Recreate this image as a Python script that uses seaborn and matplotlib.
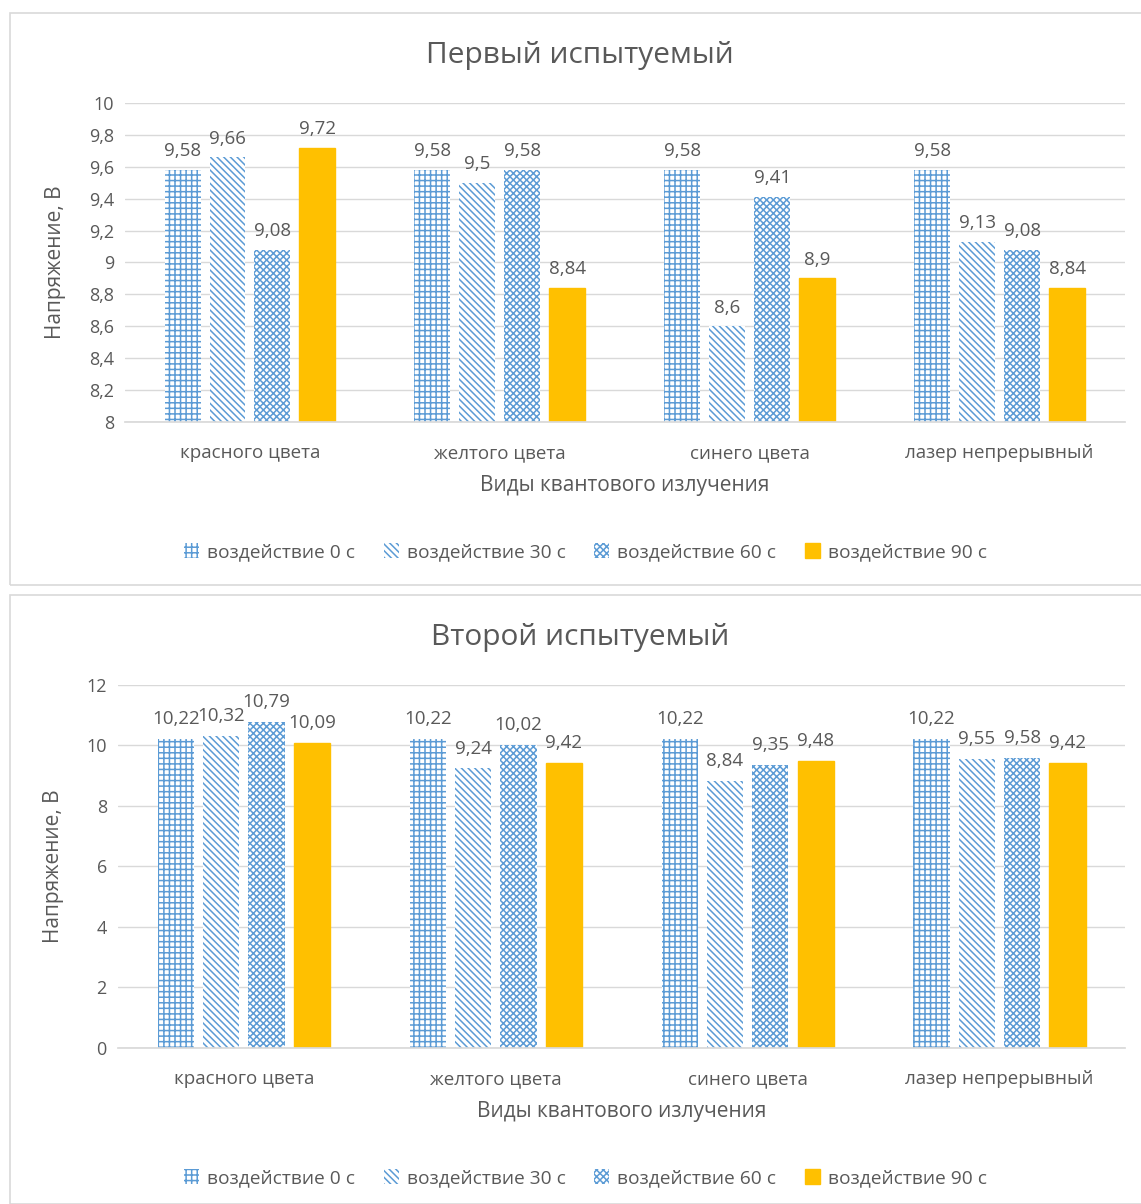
import matplotlib
matplotlib.use("Agg")
import matplotlib.pyplot as plt
import matplotlib.patches as mpatches
import seaborn as sns
import pandas as pd

sns.set_theme(style="white")
plt.rcParams["font.family"] = ["Open Sans", "DejaVu Sans"]
plt.rcParams["hatch.linewidth"] = 1.1

categories = ["красного цвета", "желтого цвета", "синего цвета", "лазер непрерывный"]
series = ["воздействие 0 с", "воздействие 30 с", "воздействие 60 с", "воздействие 90 с"]

first_0 = [9.58, 9.58, 9.58, 9.58]
first_30 = [9.66, 9.50, 8.60, 9.13]
first_60 = [9.08, 9.58, 9.41, 9.08]
first_90 = [9.72, 8.84, 8.90, 8.84]

second_0 = [10.22, 10.22, 10.22, 10.22]
second_30 = [10.32, 9.24, 8.84, 9.55]
second_60 = [10.79, 10.02, 9.35, 9.58]
second_90 = [10.09, 9.42, 9.48, 9.42]

blue = "#5B9BD5"
gold = "#FFC000"
text_col = "#595959"
grid_col = "#D9D9D9"
hatches = ["+++", "\\\\\\\\\\", "xxxxx", None]


def long_frame(cols):
    rows = []
    for s, vals in zip(series, cols):
        for c, v in zip(categories, vals):
            rows.append({"cat": c, "ser": s, "val": v})
    return pd.DataFrame(rows)


def fmt(v):
    return f"{v:g}".replace(".", ",")


def draw_panel(ax, df, ylim, step):
    sns.barplot(data=df, x="cat", y="val", hue="ser", order=categories,
                hue_order=series, ax=ax, width=0.72, gap=0.2, saturation=1,
                palette=["white", "white", "white", gold], legend=False,
                errorbar=None)
    for i, cont in enumerate(ax.containers):
        for bar, v in zip(cont, df[df.ser == series[i]]["val"]):
            if hatches[i]:
                bar.set_hatch(hatches[i])
                bar.set_edgecolor(blue)
                bar.set_linewidth(0)
            else:
                bar.set_edgecolor(gold)
                bar.set_facecolor(gold)
            ax.text(bar.get_x() + bar.get_width() / 2, v + (ylim[1] - ylim[0]) * 0.03,
                    fmt(v), ha="center", va="bottom", fontsize=13.5, color=text_col)
    ax.set_ylim(*ylim)
    ticks = [ylim[0] + k * step for k in range(int(round((ylim[1] - ylim[0]) / step)) + 1)]
    ax.set_yticks(ticks)
    ax.set_yticklabels([fmt(round(t, 1)) for t in ticks], fontsize=13, color=text_col)
    ax.tick_params(axis="x", labelsize=13.5, colors=text_col, length=0, pad=16)
    ax.tick_params(axis="y", length=0, pad=8)
    ax.grid(axis="y", color=grid_col, linewidth=1)
    ax.set_axisbelow(True)
    for s in ["top", "right", "left"]:
        ax.spines[s].set_visible(False)
    ax.spines["bottom"].set_color(grid_col)
    ax.set_xlabel("Виды квантового излучения", fontsize=15, color=text_col, labelpad=9)
    ax.set_ylabel("Напряжение, В", fontsize=15, color=text_col, labelpad=16)
    ax.set_xlim(-0.5, 3.5)


fig = plt.figure(figsize=(11.41, 12.04), dpi=100)

ax1 = fig.add_axes([0.1096, 0.6495, 0.876, 0.265])
draw_panel(ax1, long_frame([first_0, first_30, first_60, first_90]), (8, 10), 0.2)

ax2 = fig.add_axes([0.1034, 0.1296, 0.883, 0.3015])
draw_panel(ax2, long_frame([second_0, second_30, second_60, second_90]), (0, 12), 2)

fig.text(580 / 1141, 1 - 55 / 1204, "Первый испытуемый", ha="center", va="center",
         fontsize=21.5, color=text_col)
fig.text(580 / 1141, 1 - 637 / 1204, "Второй испытуемый", ha="center", va="center",
         fontsize=21.5, color=text_col)

# panel frames
for y0, h in [(1 - 585 / 1204, (585 - 13) / 1204), (1 - 1204 / 1204, (1204 - 595) / 1204)]:
    fig.patches.append(mpatches.Rectangle((10 / 1141, y0), 1.2, h, transform=fig.transFigure,
                                          fill=False, edgecolor="#D9D9D9", linewidth=1.2))

# legends
handles = []
for i, s in enumerate(series):
    if hatches[i]:
        handles.append(mpatches.Patch(facecolor="white", edgecolor=blue, hatch=hatches[i],
                                      linewidth=0, label=s))
    else:
        handles.append(mpatches.Patch(facecolor=gold, edgecolor=gold, label=s))
for ypos in [1 - 552 / 1204, 1 - 1178 / 1204]:
    fig.legend(handles=handles, loc="center", bbox_to_anchor=(0.513, ypos), ncol=4,
               frameon=False, fontsize=13.8, labelcolor=text_col, handlelength=0.8,
               handleheight=0.8, columnspacing=1.5, handletextpad=0.4)

fig.savefig("out.png", dpi=100, facecolor="white")
